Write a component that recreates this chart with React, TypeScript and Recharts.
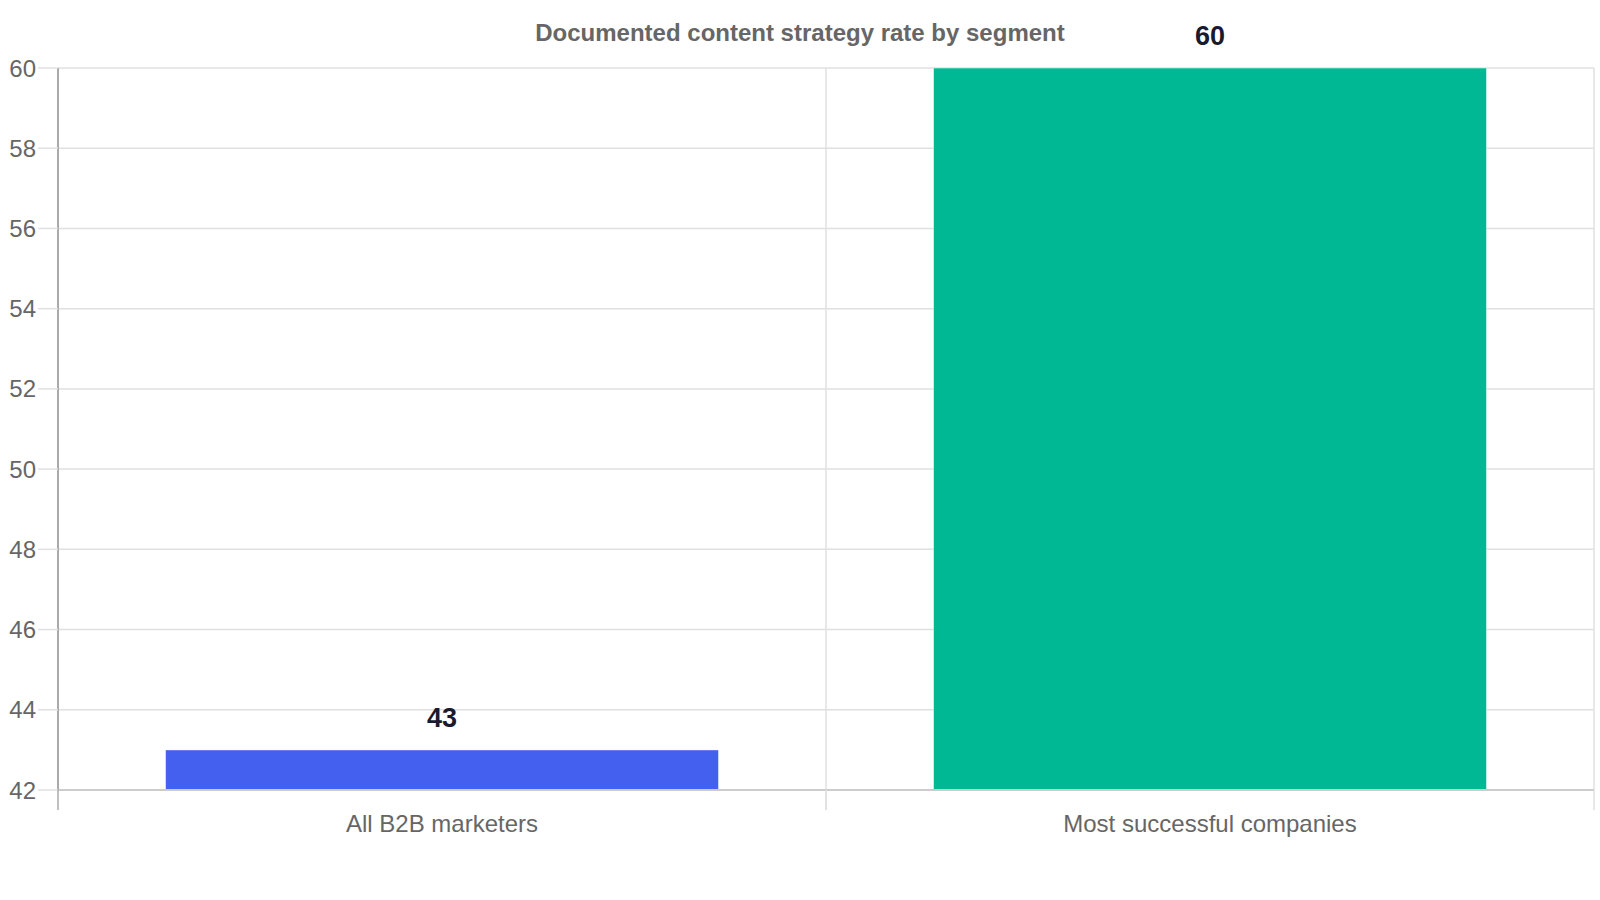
import React from 'react';
import { BarChart, Bar, XAxis, YAxis, CartesianGrid, Cell, LabelList } from 'recharts';

const segments = ['All B2B marketers', 'Most successful companies'];
const rates = [43, 60];
const barColors = ['#4361ee', '#00b894'];
const yTicks = [42, 44, 46, 48, 50, 52, 54, 56, 58, 60];

const W = 1600;
const H = 900;
const M = { top: 68, right: 6, bottom: 50, left: 0 };
const X_AXIS_H = 60;
const Y_AXIS_W = 58;
const PLOT_W = W - M.left - M.right - Y_AXIS_W;
const HALF_BAND = PLOT_W / segments.length / 2;
const FONT = '"Liberation Sans", Arial, sans-serif';

const data = segments.map((name, i) => ({ name, rate: rates[i] }));

// category label plus boundary ticks hanging below the axis
const SegmentTick = (props: any) => {
  const { x, y, payload, index } = props;
  return (
    <g>
      <line x1={x - HALF_BAND} x2={x - HALF_BAND} y1={y} y2={y + 20} stroke={index === 0 ? '#aaa' : '#e0e0e0'} strokeWidth={1.5} />
      <line x1={x + HALF_BAND} x2={x + HALF_BAND} y1={y} y2={y + 20} stroke="#e0e0e0" strokeWidth={1.5} />
      <text x={x} y={y + 42} textAnchor="middle" fontSize={24} fill="#666" fontFamily={FONT}>
        {payload.value}
      </text>
    </g>
  );
};

export default function App() {
  return (
    <div style={{ position: 'relative', width: W, height: H, background: '#fff', fontFamily: FONT }}>
      <style>{'body{margin:0}'}</style>
      <div
        style={{
          position: 'absolute', top: 19, left: 0, width: W, textAlign: 'center',
          fontSize: 24, lineHeight: '28px', fontWeight: 700, color: '#666'
        }}
      >
        Documented content strategy rate by segment
      </div>
      <BarChart width={W} height={H} data={data} margin={M} barCategoryGap="14%">
        <CartesianGrid
          stroke="#e0e0e0"
          strokeWidth={1.5}
          verticalCoordinatesGenerator={({ offset }: any) => [offset.left + offset.width / 2, offset.left + offset.width]}
        />
        <XAxis
          dataKey="name"
          axisLine={{ stroke: '#ccc', strokeWidth: 2 }}
          tickLine={false}
          tickSize={0}
          tickMargin={0}
          height={X_AXIS_H}
          tick={<SegmentTick />}
          interval={0}
        />
        <YAxis
          width={Y_AXIS_W}
          domain={[42, 60]}
          ticks={yTicks}
          allowDataOverflow
          axisLine={{ stroke: '#aaa', strokeWidth: 2 }}
          tickLine={{ stroke: '#e0e0e0', strokeWidth: 1.5 }}
          tickSize={20}
          tickMargin={2}
          tick={{ fontSize: 24, fill: '#666', fontFamily: FONT }}
        />
        <Bar dataKey="rate" isAnimationActive={false} stroke="#ffffff" strokeOpacity={0.5} strokeWidth={1}>
          {data.map((entry, i) => (
            <Cell key={`cell-${i}`} fill={barColors[i]} />
          ))}
          <LabelList
            dataKey="rate"
            position="top"
            offset={23}
            fill="#1a1a2e"
            fontSize={27}
            fontWeight={700}
            fontFamily={FONT}
          />
        </Bar>
      </BarChart>
    </div>
  );
}
